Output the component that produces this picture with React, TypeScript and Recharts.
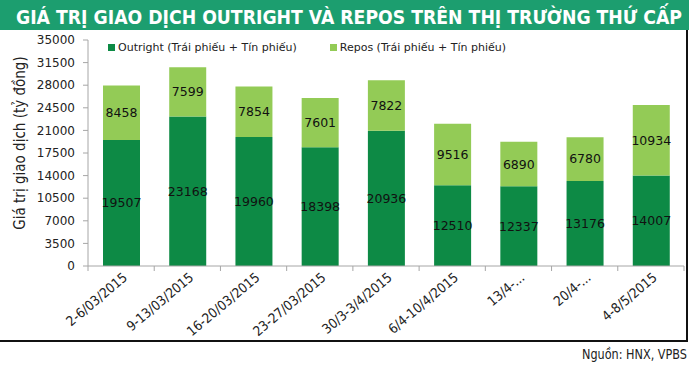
import React from "react";
import { BarChart, Bar, XAxis, YAxis, LabelList } from "recharts";

// số liệu
const weeks = [
  "2-6/03/2015",
  "9-13/03/2015",
  "16-20/03/2015",
  "23-27/03/2015",
  "30/3-3/4/2015",
  "6/4-10/4/2015",
  "13/4-...",
  "20/4-...",
  "4-8/5/2015",
];
const outright = [19507, 23168, 19960, 18398, 20936, 12510, 12337, 13176, 14007];
const repos = [8458, 7599, 7854, 7601, 7822, 9516, 6890, 6780, 10934];
const yTicks = [0, 3500, 7000, 10500, 14000, 17500, 21000, 24500, 28000, 31500, 35000];

const SERIES = [
  { key: "outright", name: "Outright (Trái phiếu + Tín phiếu)", color: "#0d8a45" },
  { key: "repos", name: "Repos (Trái phiếu + Tín phiếu)", color: "#93cb56" },
];

const data = weeks.map((w, i) => ({ week: w, outright: outright[i], repos: repos[i] }));

const CHART_W = 686;
const CHART_H = 310;
const Y_W = 88;
const M_RIGHT = 2;
const CAT_W = (CHART_W - Y_W - M_RIGHT) / weeks.length;

const NARROW = "'Liberation Sans Narrow', 'DejaVu Sans Condensed', sans-serif";
const VERD = "'DejaVu Sans', Verdana, sans-serif";

function WeekTick(props: any) {
  const { x, y, payload, index } = props;
  return (
    <g>
      {index === 0 && (
        <line x1={x - CAT_W / 2} x2={x - CAT_W / 2} y1={y} y2={y + 5} stroke="#a6a6a6" />
      )}
      <line x1={x + CAT_W / 2} x2={x + CAT_W / 2} y1={y} y2={y + 5} stroke="#a6a6a6" />
      <text
        x={x + 7}
        y={y + 13}
        textAnchor="end"
        fontSize={13.5}
        fontFamily={NARROW}
        fill="#222"
        transform={`rotate(-40, ${x + 7}, ${y + 13})`}
      >
        {payload.value}
      </text>
    </g>
  );
}

function YLabel(props: any) {
  const vb = props.viewBox || {};
  const cx = 20;
  const cy = (vb.y ?? 10) + (vb.height ?? 226) / 2 - 10;
  return (
    <text
      x={cx}
      y={cy}
      textAnchor="middle"
      dominantBaseline="central"
      fontSize={15}
      fontFamily={NARROW}
      fill="#222"
      transform={`rotate(-90, ${cx}, ${cy})`}
    >
      Giá trị giao dịch (tỷ đồng)
    </text>
  );
}

export default function App() {
  return (
    <div
      style={{
        position: "absolute",
        left: 0,
        top: 0,
        width: 700,
        height: 367,
        background: "#fff",
        overflow: "hidden",
      }}
    >
      <svg width={700} height={367} style={{ position: "absolute", left: 0, top: 0 }}>
        <rect x={0} y={0} width={689} height={30} fill="#1c9e6f" />
        <text
          x={16}
          y={24}
          textLength={666}
          lengthAdjust="spacingAndGlyphs"
          fontSize={19.5}
          fontWeight="bold"
          fontFamily={NARROW}
          fill="#fff"
        >
          GIÁ TRỊ GIAO DỊCH OUTRIGHT VÀ REPOS TRÊN THỊ TRƯỜNG THỨ CẤP
        </text>
        <text
          x={582}
          y={359}
          textLength={105}
          lengthAdjust="spacingAndGlyphs"
          fontSize={14}
          fontFamily={NARROW}
          fill="#222"
        >
          Nguồn: HNX, VPBS
        </text>
      </svg>

      <div
        style={{
          position: "absolute",
          left: 0,
          top: 30,
          width: CHART_W,
          height: CHART_H,
          borderRight: "2px solid #111",
          borderBottom: "2px solid #111",
        }}
      >
        <BarChart
          width={CHART_W}
          height={CHART_H}
          data={data}
          margin={{ top: 10, right: M_RIGHT, left: 0, bottom: 0 }}
          barSize={37}
        >
          <YAxis
            width={Y_W}
            domain={[0, 35000]}
            ticks={yTicks}
            interval={0}
            tickSize={5}
            tickMargin={8}
            axisLine={{ stroke: "#a6a6a6" }}
            tickLine={{ stroke: "#a6a6a6" }}
            tick={{ fontSize: 12, fontFamily: VERD, fill: "#222" }}
            label={<YLabel />}
          />
          <XAxis
            dataKey="week"
            height={74}
            interval={0}
            tickLine={false}
            tickSize={0}
            tickMargin={0}
            axisLine={{ stroke: "#a6a6a6" }}
            tick={<WeekTick />}
          />
          {SERIES.map((s) => (
            <Bar
              key={s.key}
              dataKey={s.key}
              name={s.name}
              stackId="a"
              fill={s.color}
              isAnimationActive={false}
            >
              <LabelList
                dataKey={s.key}
                position="center"
                fill="#111"
                fontSize={12.5}
                fontFamily={VERD}
              />
            </Bar>
          ))}
        </BarChart>

        <div
          style={{
            position: "absolute",
            top: 11,
            left: 108,
            display: "flex",
            fontFamily: VERD,
            fontSize: 11,
            color: "#222",
          }}
        >
          {SERIES.map((s, i) => (
            <div
              key={s.key}
              style={{ display: "flex", alignItems: "center", marginRight: i === 0 ? 33 : 0 }}
            >
              <span
                style={{ width: 7, height: 7, background: s.color, marginRight: 3, display: "inline-block" }}
              />
              <span>{s.name}</span>
            </div>
          ))}
        </div>
      </div>
    </div>
  );
}
